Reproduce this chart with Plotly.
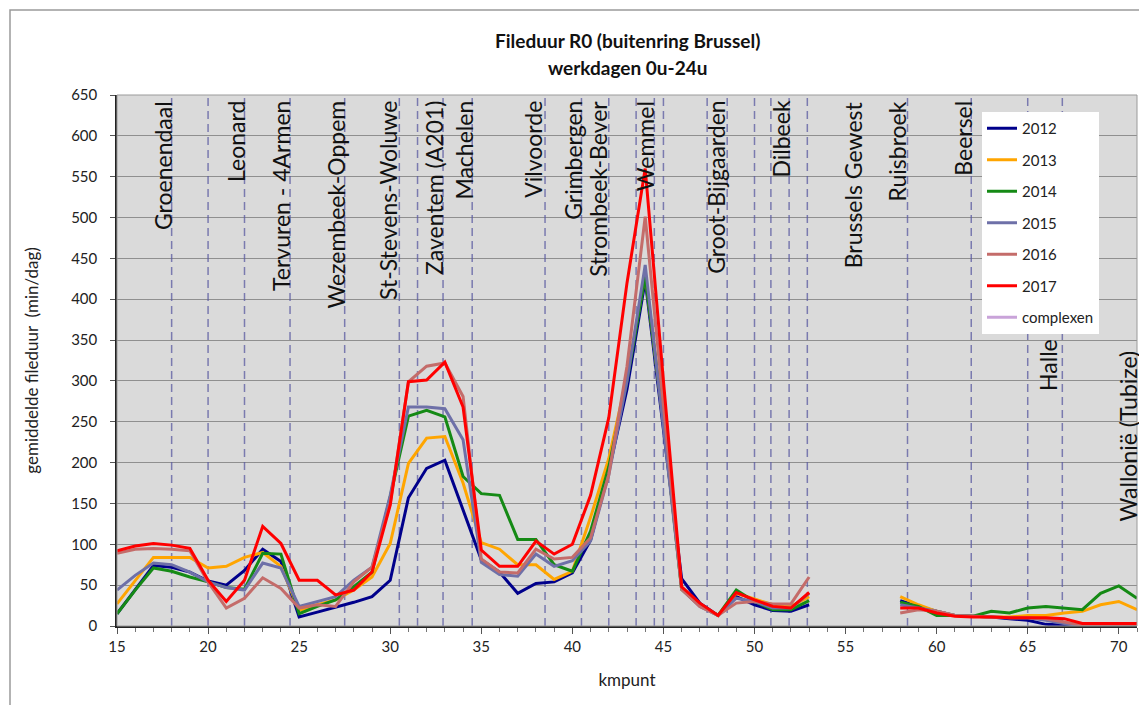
import plotly.graph_objects as go

# kmpunten: 15..53, gat 54..57, 58..71
km = list(range(15, 72))

y2012 = [15, 44, 74, 72, 66, 55, 50, 68, 94, 79, 11, 17, 23, 29, 36, 56, 157, 193, 203, 142,
         81, 66, 40, 52, 54, 65, 105, 190, 290, 423, 240, 58, 28, 13, 36, 26, 19, 18, 26,
         None, None, None, None,
         31, 24, 18, 13, 12, 11, 9, 7, 2, 1, 0, 0, 0, 0]
y2013 = [27, 56, 84, 84, 84, 71, 73, 84, 90, 73, 19, 26, 32, 44, 60, 101, 199, 230, 232, 175,
         102, 94, 75, 75, 57, 67, 133, 205, 305, 430, 250, 45, 25, 13, 40, 33, 26, 24, 36,
         None, None, None, None,
         36, 26, 18, 13, 12, 11, 11, 13, 13, 16, 18, 26, 30, 20]
y2014 = [15, 44, 71, 67, 60, 54, 47, 45, 89, 88, 15, 24, 32, 48, 66, 158, 257, 264, 256, 183,
         162, 160, 106, 106, 75, 67, 116, 195, 300, 428, 250, 45, 25, 13, 44, 30, 20, 20, 31,
         None, None, None, None,
         29, 24, 13, 13, 12, 18, 16, 22, 24, 22, 20, 40, 49, 34]
y2015 = [44, 62, 77, 75, 66, 54, 47, 44, 77, 71, 24, 30, 36, 56, 72, 160, 268, 268, 266, 228,
         78, 63, 61, 88, 73, 80, 104, 185, 300, 442, 245, 45, 24, 13, 34, 30, 22, 22, 40,
         None, None, None, None,
         26, 22, 18, 13, 12, 11, 10, 10, 7, 3, 0, 0, 0, 0]
y2016 = [89, 94, 95, 94, 92, 54, 22, 34, 59, 46, 22, 26, 24, 54, 72, 150, 299, 318, 322, 281,
         82, 66, 65, 94, 82, 84, 108, 185, 318, 501, 270, 45, 24, 13, 28, 30, 27, 27, 60,
         None, None, None, None,
         16, 20, 18, 13, 12, 11, 10, 10, 9, 5, 1, 1, 1, 1]
y2017 = [92, 98, 101, 99, 95, 56, 30, 56, 122, 101, 56, 56, 38, 44, 66, 148, 299, 301, 323, 268,
         93, 73, 73, 104, 88, 100, 160, 255, 420, 560, 300, 48, 28, 13, 41, 32, 24, 22, 41,
         None, None, None, None,
         22, 22, 16, 12, 11, 11, 10, 10, 10, 9, 3, 3, 3, 3]

series = [("2012", y2012, "#00008b"), ("2013", y2013, "#ffa500"), ("2014", y2014, "#158a15"),
          ("2015", y2015, "#6e70a8"), ("2016", y2016, "#c46c6a"), ("2017", y2017, "#ff0000")]

# complexen (grenzen)
complex_km = [18.0, 20.0, 22.0, 24.5, 27.5, 30.5, 31.5, 32.9, 34.5, 38.5, 40.5, 42.0, 43.5,
              44.5, 45.0, 47.4, 48.5, 50.0, 50.9, 51.9, 52.9, 58.4, 61.9, 65.0, 66.9]

labels = ["Groenendaal", "Leonard", "Tervuren - 4Armen", "Wezembeek-Oppem", "St-Stevens-Woluwe",
          "Zaventem (A201)", "Machelen", "Vilvoorde", "Grimbergen", "Strombeek-Bever", "Wemmel",
          "Groot-Bijgaarden", "Dilbeek", "Brussels Gewest", "Ruisbroek", "Beersel"]
label_km = [17.5, 21.5, 24.0, 27.0, 29.85, 32.4, 34.0, 37.8, 40.0, 41.4, 44.0,
            47.85, 51.4, 55.4, 57.85, 61.4]
low_labels = ["Halle", "Wallonië (Tubize)"]
low_km = [66.1, 70.5]
low_y = [285, 126]

FONT = "Lato"

# pagina heeft 8px body-marge: figuur iets kleiner, marges gecompenseerd
W, H = 1139, 697
L, T = 109, 87
PW, PH = 1020, 531

fig = go.Figure()

cx, cy = [], []
for k in complex_km:
    cx += [k, k, None]
    cy += [0, 650, None]
fig.add_trace(go.Scatter(x=cx, y=cy, mode="lines", showlegend=False, hoverinfo="skip",
                         line=dict(color="rgba(90,90,160,0.75)", width=1.5, dash="8px,5px")))

for name, ys, col in series:
    fig.add_trace(go.Scatter(x=km, y=ys, mode="lines", name=name, legendgroup=name,
                             line=dict(color=col, width=3)))

fig.add_trace(go.Scatter(x=[None], y=[None], mode="lines", name="complexen", legendgroup="c",
                         line=dict(color="#c9a3d9", width=3)))

for t, k in zip(labels, label_km):
    fig.add_annotation(x=k, y=1, xref="x", yref="paper", text=t, textangle=-90,
                       showarrow=False, xanchor="center", yanchor="top", yshift=-4,
                       font=dict(family=FONT, size=23, color="#111111"))
for t, k, v in zip(low_labels, low_km, low_y):
    fig.add_annotation(x=k, y=v, xref="x", yref="y", text=t, textangle=-90,
                       showarrow=False, xanchor="center", yanchor="bottom",
                       font=dict(family=FONT, size=23, color="#111111"))

# titel (twee regels)
fig.add_annotation(x=0.5, y=(626 - 40) / PH, xref="paper", yref="paper", showarrow=False,
                   text="<b>Fileduur R0 (buitenring Brussel)</b>", yanchor="middle",
                   font=dict(family=FONT, size=19, color="#111111"))
fig.add_annotation(x=0.5, y=(626 - 68) / PH, xref="paper", yref="paper", showarrow=False,
                   text="<b>werkdagen 0u-24u</b>", yanchor="middle",
                   font=dict(family=FONT, size=19, color="#111111"))

# kader rond de grafiek (alleen links en boven zichtbaar)
fig.add_shape(type="rect", xref="paper", yref="paper",
              x0=(10 - 117) / PW, x1=(1160 - 117) / PW,
              y0=(626 - 720) / PH, y1=(626 - 10) / PH,
              line=dict(color="#9a9a9a", width=1.5), layer="below")

fig.update_layout(
    width=W, height=H,
    margin=dict(l=L, r=W - L - PW, t=T, b=H - T - PH),
    paper_bgcolor="white", plot_bgcolor="#dadada",
    font=dict(family=FONT, size=15, color="#222222"),
    legend=dict(x=(982 - 117) / PW, y=(626 - 112) / PH, xanchor="left", yanchor="top",
                bgcolor="white", borderwidth=0, tracegroupgap=9,
                font=dict(family=FONT, size=15, color="#222222"),
                itemwidth=30),
    showlegend=True,
)

fig.update_xaxes(range=[15, 71], dtick=5, tick0=15, showgrid=False, zeroline=False,
                 showline=True, linecolor="#222222", linewidth=1.5, mirror=False,
                 ticks="outside", ticklen=6, tickcolor="#555555",
                 minor=dict(dtick=1, ticks="outside", ticklen=4, tickcolor="#777777"),
                 title=dict(text="kmpunt", standoff=20, font=dict(size=17)),
                 tickfont=dict(size=15))
fig.update_yaxes(range=[0, 650], dtick=50, showgrid=True, gridcolor="#8f8f8f", gridwidth=1,
                 zeroline=False, showline=True, linecolor="#222222", linewidth=1.5,
                 ticks="outside", ticklen=5, tickcolor="#555555", ticklabelstandoff=10,
                 title=dict(text="gemiddelde fileduur  (min/dag)", standoff=28, font=dict(size=17)),
                 tickfont=dict(size=15))

# rand van het plotvlak
fig.add_shape(type="rect", xref="paper", yref="paper", x0=0, x1=1, y0=0, y1=1,
              line=dict(color="#9a9a9a", width=1))

fig.write_html("out.html")
